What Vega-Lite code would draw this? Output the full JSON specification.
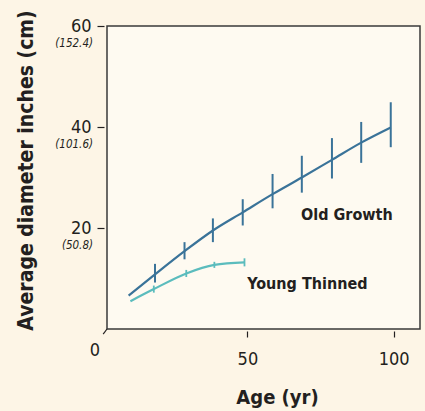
{
  "$schema": "https://vega.github.io/schema/vega-lite/v6.json",
  "width": 313,
  "height": 303,
  "autosize": "none",
  "padding": {"left": 107, "top": 26, "right": 5, "bottom": 82},
  "background": "#fdf5e6",
  "config": {
    "font": "'DejaVu Sans Condensed', Roboto, sans-serif",
    "view": {"fill": "#fefaf1", "stroke": "#3a3a3a", "strokeWidth": 1.5},
    "axis": {"labelFont": "'DejaVu Sans Condensed', Roboto, sans-serif", "titleFont": "'DejaVu Sans Condensed', Roboto, sans-serif", "labelColor": "#231f20", "titleColor": "#231f20", "tickColor": "#231f20", "grid": false}
  },
  "datasets": {
    "og": [
      {"age": 9.4, "dia": 6.6},
      {"age": 18.4, "dia": 10.8, "lo": 9.2, "hi": 12.9},
      {"age": 28.5, "dia": 15.4, "lo": 13.8, "hi": 17.2},
      {"age": 38.2, "dia": 19.5, "lo": 17.2, "hi": 21.9},
      {"age": 48.4, "dia": 23.1, "lo": 20.5, "hi": 25.7},
      {"age": 58.6, "dia": 26.7, "lo": 23.9, "hi": 30.7},
      {"age": 68.6, "dia": 30.0, "lo": 27.0, "hi": 34.3},
      {"age": 78.9, "dia": 33.5, "lo": 29.8, "hi": 37.8},
      {"age": 88.9, "dia": 36.9, "lo": 32.9, "hi": 41.0},
      {"age": 99.0, "dia": 39.9, "lo": 36.0, "hi": 44.9}
    ],
    "yt": [
      {"age": 10.0, "dia": 5.5},
      {"age": 18.0, "dia": 7.9, "lo": 7.2, "hi": 8.6},
      {"age": 29.1, "dia": 11.0, "lo": 10.3, "hi": 11.7},
      {"age": 38.7, "dia": 12.7, "lo": 12.1, "hi": 13.3},
      {"age": 49.0, "dia": 13.2, "lo": 12.4, "hi": 14.0}
    ],
    "cm": [
      {"inch": 60, "cm": "(152.4)"},
      {"inch": 40, "cm": "(101.6)"},
      {"inch": 20, "cm": "(50.8)"}
    ],
    "one": [{}]
  },
  "layer": [
    {
      "data": {"name": "yt"},
      "mark": {"type": "line", "interpolate": "monotone", "color": "#5bbcbd", "strokeWidth": 2.2},
      "encoding": {
        "x": {"field": "age", "type": "quantitative", "scale": {"domain": [2, 109], "nice": false, "zero": false},
          "axis": {"values": [50, 100], "title": "Age (yr)", "domain": false, "offset": 2, "tickSize": 6, "tickWidth": 1.2, "labelFontSize": 18, "labelPadding": 13, "titleFontSize": 20, "titleFontWeight": "bold", "titlePadding": 19, "titleX": 170}},
        "y": {"field": "dia", "type": "quantitative", "scale": {"domain": [0, 60], "nice": false},
          "axis": {"values": [20, 40, 60], "title": "Average diameter inches (cm)", "domain": false, "offset": 3, "tickSize": 7, "tickWidth": 1.2, "labelFontSize": 18, "labelPadding": 6, "labelBaseline": "middle", "titleFontSize": 21, "titleFontWeight": "bold", "titlePadding": 34, "titleY": 144}}
      }
    },
    {
      "data": {"name": "yt"},
      "mark": {"type": "rule", "color": "#5bbcbd", "strokeWidth": 1.8},
      "encoding": {
        "x": {"field": "age", "type": "quantitative"},
        "y": {"field": "lo", "type": "quantitative"},
        "y2": {"field": "hi"}
      }
    },
    {
      "data": {"name": "og"},
      "mark": {"type": "line", "interpolate": "monotone", "color": "#3a7399", "strokeWidth": 2.2},
      "encoding": {
        "x": {"field": "age", "type": "quantitative"},
        "y": {"field": "dia", "type": "quantitative"}
      }
    },
    {
      "data": {"name": "og"},
      "mark": {"type": "rule", "color": "#3a7399", "strokeWidth": 2},
      "encoding": {
        "x": {"field": "age", "type": "quantitative"},
        "y": {"field": "lo", "type": "quantitative"},
        "y2": {"field": "hi"}
      }
    },
    {
      "data": {"name": "cm"},
      "mark": {"type": "text", "align": "right", "baseline": "middle", "fontStyle": "italic", "fontSize": 11.5, "color": "#231f20", "dx": -14, "dy": 18},
      "encoding": {
        "x": {"datum": 2},
        "y": {"field": "inch", "type": "quantitative"},
        "text": {"field": "cm"}
      }
    },
    {
      "data": {"name": "one"},
      "mark": {"type": "text", "align": "center", "baseline": "middle", "fontSize": 18, "color": "#231f20", "dx": -12, "dy": 22, "text": "0"},
      "encoding": {"x": {"datum": 2}, "y": {"datum": 0}}
    },
    {
      "data": {"name": "one"},
      "mark": {"type": "rule", "color": "#231f20", "strokeWidth": 1.2},
      "encoding": {"x": {"datum": 2}, "y": {"datum": 0}, "x2": {"datum": 0.7}, "y2": {"datum": -1}}
    },
    {
      "data": {"name": "one"},
      "mark": {"type": "text", "align": "center", "baseline": "middle", "fontSize": 16, "fontWeight": "bold", "color": "#231f20", "text": "Old Growth"},
      "encoding": {"x": {"datum": 84}, "y": {"datum": 22.5}}
    },
    {
      "data": {"name": "one"},
      "mark": {"type": "text", "align": "center", "baseline": "middle", "fontSize": 16, "fontWeight": "bold", "color": "#231f20", "text": "Young Thinned"},
      "encoding": {"x": {"datum": 70.5}, "y": {"datum": 9}}
    }
  ]
}
